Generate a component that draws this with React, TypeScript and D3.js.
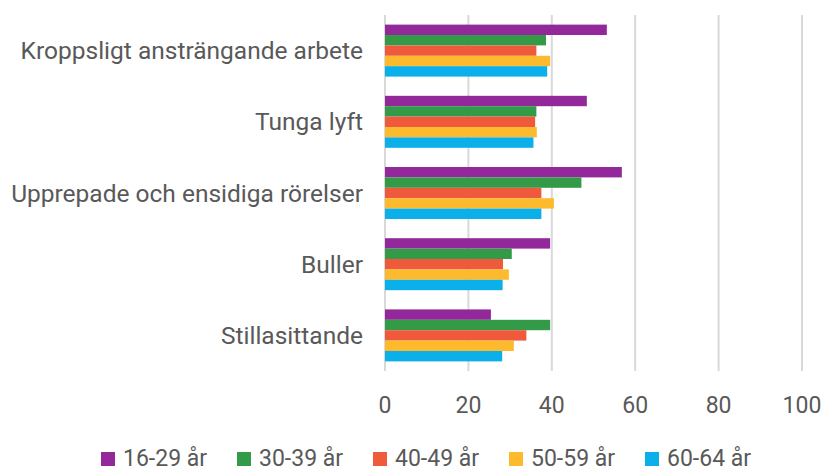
import * as d3 from "d3";

const WIDTH = 823;
const HEIGHT = 469;
const MARGIN = { top: 15, right: 21, bottom: 98, left: 385 };

const categories = [
  "Kroppsligt ansträngande arbete",
  "Tunga lyft",
  "Upprepade och ensidiga rörelser",
  "Buller",
  "Stillasittande",
];
const groups = ["16-29 år", "30-39 år", "40-49 år", "50-59 år", "60-64 år"];
const colors = ["#93289A", "#339A48", "#EF5A3D", "#FDBA2D", "#0BAFEA"];

// one array per age group, same order as categories
const age16_29 = [53.2, 48.4, 56.8, 39.6, 25.4];
const age30_39 = [38.6, 36.3, 47.1, 30.4, 39.6];
const age40_49 = [36.3, 36.0, 37.5, 28.3, 33.9];
const age50_59 = [39.6, 36.4, 40.5, 29.7, 30.9];
const age60_64 = [38.9, 35.6, 37.5, 28.2, 28.1];
const xTicks = [0, 20, 40, 60, 80, 100];

const series = [age16_29, age30_39, age40_49, age50_59, age60_64];

const FONT = "Roboto, 'Noto Sans', sans-serif";
const TEXT = "#595959";

export default function App() {
  const boundsWidth = WIDTH - MARGIN.left - MARGIN.right;
  const boundsHeight = HEIGHT - MARGIN.top - MARGIN.bottom;

  const xScale = d3.scaleLinear().domain([0, 100]).range([0, boundsWidth]);
  const yScale = d3
    .scaleBand()
    .domain(categories)
    .range([0, boundsHeight])
    .paddingInner(0.27)
    .paddingOuter(0.135);
  const inner = d3
    .scaleBand()
    .domain(groups)
    .range([0, yScale.bandwidth()]);

  const legendX = d3
    .scalePoint()
    .domain(groups)
    .range([101, 645]);

  return (
    <svg
      width={WIDTH}
      height={HEIGHT}
      style={{ position: "absolute", left: 0, top: 0, background: "#fff" }}
      fontFamily={FONT}
    >
      <g transform={`translate(${MARGIN.left},${MARGIN.top})`}>
        {xTicks.map((t) => (
          <g key={t}>
            <line
              x1={xScale(t)}
              x2={xScale(t)}
              y1={0}
              y2={boundsHeight}
              stroke="#d9d9d9"
              strokeWidth={2}
            />
            <text
              x={xScale(t)}
              y={boundsHeight + 42}
              textAnchor="middle"
              fontSize={23}
              fill={TEXT}
            >
              {t}
            </text>
          </g>
        ))}
        {categories.map((cat, ci) => (
          <g key={cat} transform={`translate(0,${yScale(cat)})`}>
            {series.map((vals, gi) => (
              <rect
                key={gi}
                x={xScale(0)}
                y={inner(groups[gi])}
                width={xScale(vals[ci]) - xScale(0)}
                height={inner.bandwidth()}
                fill={colors[gi]}
              />
            ))}
            <text
              x={-22}
              y={yScale.bandwidth() / 2}
              dy="0.35em"
              textAnchor="end"
              fontSize={24.5}
              fill={TEXT}
            >
              {cat}
            </text>
          </g>
        ))}
      </g>
      <g>
        {groups.map((g, i) => (
          <g key={g} transform={`translate(${legendX(g)},452)`}>
            <rect width={14} height={14} fill={colors[i]} />
            <text x={22} y={14} fontSize={23} fill={TEXT}>
              {g}
            </text>
          </g>
        ))}
      </g>
    </svg>
  );
}
